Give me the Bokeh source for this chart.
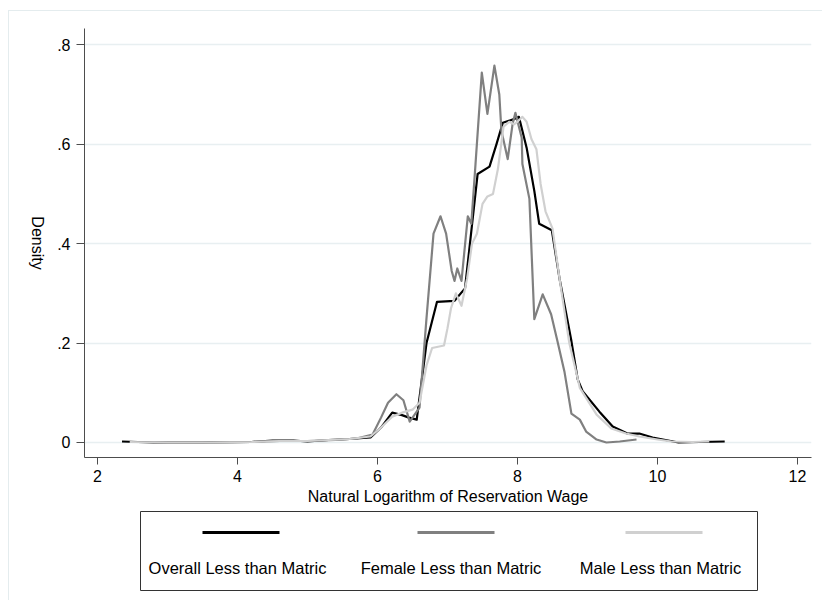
import math
from bokeh.plotting import figure
from bokeh.models import FixedTicker, Range1d, ColumnDataSource
from bokeh.layouts import column, row
from bokeh.embed import file_html
from bokeh.resources import INLINE
from bokeh.core.properties import value

# ---------------- data ----------------
series_names = ["Overall Less than Matric", "Female Less than Matric", "Male Less than Matric"]
series_colors = ["#000000", "#808080", "#d0d0d0"]

overall_x = [2.35, 2.8, 3.5, 4.2, 4.5, 4.8, 5.0, 5.3, 5.6, 5.9, 6.05, 6.21, 6.35, 6.45, 6.56,
             6.7, 6.85, 7.1, 7.25, 7.43, 7.6, 7.7, 7.79, 7.96, 8.02, 8.13, 8.24, 8.31, 8.49,
             8.6, 8.77, 8.86, 8.93, 9.17, 9.36, 9.57, 9.74, 9.93, 10.3, 10.6, 10.96]
overall_y = [0.002, 0.0, 0.0, 0.001, 0.004, 0.004, 0.002, 0.005, 0.007, 0.01, 0.03, 0.06, 0.055,
             0.05, 0.046, 0.2, 0.283, 0.285, 0.31, 0.54, 0.555, 0.6, 0.643, 0.651, 0.655, 0.593,
             0.506, 0.44, 0.427, 0.33, 0.204, 0.127, 0.103, 0.062, 0.032, 0.018, 0.018, 0.01,
             0.0, 0.001, 0.002]

female_x = [2.8, 3.5, 4.2, 4.6, 5.0, 5.4, 5.7, 5.93, 6.05, 6.15, 6.27, 6.37, 6.46, 6.6, 6.7,
            6.8, 6.9, 6.98, 7.06, 7.1, 7.14, 7.2, 7.29, 7.34, 7.4, 7.49, 7.57, 7.67, 7.74,
            7.77, 7.86, 7.93, 7.97, 8.06, 8.07, 8.17, 8.24, 8.36, 8.48, 8.57, 8.67, 8.77,
            8.89, 8.98, 9.13, 9.27, 9.46, 9.7]
female_y = [0.0, 0.0, 0.001, 0.003, 0.003, 0.005, 0.008, 0.016, 0.05, 0.08, 0.097, 0.085,
            0.042, 0.07, 0.25, 0.42, 0.455, 0.42, 0.345, 0.325, 0.35, 0.325, 0.455, 0.44,
            0.56, 0.744, 0.661, 0.758, 0.70, 0.627, 0.57, 0.641, 0.663, 0.613, 0.56, 0.49,
            0.248, 0.298, 0.258, 0.204, 0.143, 0.058, 0.046, 0.022, 0.006, 0.0, 0.002, 0.006]

male_x = [2.46, 3.0, 3.6, 4.2, 4.6, 5.0, 5.3, 5.6, 5.9, 6.05, 6.21, 6.35, 6.5, 6.6, 6.7,
          6.78, 6.95, 7.0, 7.05, 7.12, 7.2, 7.28, 7.35, 7.42, 7.5, 7.57, 7.65, 7.72, 7.8,
          7.88, 7.95, 8.0, 8.07, 8.13, 8.2, 8.27, 8.33, 8.4, 8.5, 8.6, 8.74, 8.89, 9.13,
          9.34, 9.55, 9.74, 10.0, 10.2, 10.5, 10.74]
male_y = [0.001, 0.0, 0.0, 0.001, 0.003, 0.003, 0.005, 0.007, 0.012, 0.03, 0.052, 0.06,
          0.066, 0.08, 0.155, 0.19, 0.195, 0.23, 0.27, 0.3, 0.275, 0.33, 0.4, 0.42, 0.48,
          0.495, 0.5, 0.55, 0.635, 0.645, 0.64, 0.645, 0.655, 0.645, 0.61, 0.59, 0.52,
          0.465, 0.43, 0.33, 0.2, 0.11, 0.056, 0.028, 0.018, 0.012, 0.006, 0.002, 0.001, 0.002]

x_ticks = [2, 4, 6, 8, 10, 12]
y_ticks = [0, 0.2, 0.4, 0.6, 0.8]
y_tick_labels = ["0", ".2", ".4", ".6", ".8"]
x_title = "Natural Logarithm of Reservation Wage"
y_title = "Density"

FONT = "Liberation Sans"
AXIS_COLOR = "#4d4d4d"
Y_RANGE = Range1d(-0.0302, 0.8327)

# ---------------- main plot ----------------
p = figure(width=775, height=498, x_range=Range1d(1.814, 12.2), y_range=Y_RANGE,
           output_backend="svg", toolbar_location=None,
           min_border_left=36, min_border_top=17, min_border_right=12, min_border_bottom=52)
p.outline_line_color = None
p.background_fill_color = "white"
p.border_fill_color = "white"

p.xgrid.grid_line_color = None
p.ygrid.grid_line_color = "#e8eff1"
p.ygrid.grid_line_width = 1.5
p.ygrid.ticker = FixedTicker(ticks=y_ticks)

p.xaxis.ticker = FixedTicker(ticks=x_ticks)
p.yaxis.ticker = FixedTicker(ticks=y_ticks)
p.yaxis.major_label_overrides = {t: s for t, s in zip(y_ticks, y_tick_labels)}
for ax in (p.xaxis[0], p.yaxis[0]):
    ax.axis_line_color = AXIS_COLOR
    ax.major_tick_line_color = AXIS_COLOR
    ax.minor_tick_line_color = None
    ax.major_tick_in = 0
    ax.major_label_text_font = FONT
    ax.major_label_text_font_size = "16px"
    ax.major_label_text_color = "#000000"
    ax.axis_label_text_font = FONT
    ax.axis_label_text_font_size = "16px"
    ax.axis_label_text_font_style = "normal"
    ax.axis_label_text_color = "#000000"
p.xaxis.major_tick_out = 7
p.yaxis.major_tick_out = 8
p.xaxis.major_label_standoff = 5
p.yaxis.major_label_standoff = 6
p.xaxis.axis_label = x_title
p.xaxis.axis_label_standoff = 3

for xs, ys, col in [(overall_x, overall_y, series_colors[0]),
                    (female_x, female_y, series_colors[1]),
                    (male_x, male_y, series_colors[2])]:
    p.line(xs, ys, line_color=col, line_width=2.2, line_join="round")

# ---------------- y title strip (right-side axis label reads top-to-bottom) ----------------
ylab = figure(width=39, height=498, x_range=Range1d(0, 1), y_range=Y_RANGE,
              output_backend="svg", toolbar_location=None,
              x_axis_location=None, y_axis_location="right",
              min_border=0, min_border_left=0, min_border_right=21,
              min_border_top=17, min_border_bottom=52)
ylab.outline_line_color = None
ylab.grid.visible = False
ylab.border_fill_color = "white"
ya = ylab.yaxis[0]
ya.ticker = FixedTicker(ticks=[])
ya.axis_line_color = None
ya.major_tick_line_color = None
ya.minor_tick_line_color = None
ya.major_tick_out = 0
ya.major_tick_in = 0
ya.major_label_standoff = 0
ya.axis_label = y_title
ya.axis_label_standoff = 2
ya.axis_label_text_font = FONT
ya.axis_label_text_font_size = "16px"
ya.axis_label_text_font_style = "normal"
ya.axis_label_text_color = "#000000"

# ---------------- legend (frame aligned with the main plot frame) ----------------
lg = figure(width=775, height=91, x_range=Range1d(85, 812), y_range=Range1d(91, 0),
            output_backend="svg", toolbar_location=None,
            min_border=0, min_border_left=0, min_border_right=0, min_border_top=0, min_border_bottom=0)
lg.axis.visible = False
lg.grid.visible = False
lg.outline_line_color = None
lg.border_fill_color = "white"
lg.quad(left=141, right=758, top=2, bottom=81, fill_color=None, line_color="#333333", line_width=1)

centers = [241.5, 456.5, 664.5]
src = ColumnDataSource(dict(
    x0=[c - 38.5 for c in centers], x1=[c + 38.5 for c in centers],
    y=[23] * 3, ty=[58] * 3, xc=[238, 451.5, 661], color=series_colors, name=series_names))
lg.segment(x0="x0", y0="y", x1="x1", y1="y", line_color="color", line_width=3, source=src)
lg.text(x="xc", y="ty", text="name", text_align="center", text_baseline="middle",
        text_font=value(FONT), text_font_size="16.5px", text_color="#000000", source=src)

layout = row(ylab, column(p, lg, spacing=0), margin=(10, 0, 0, 8), spacing=0,
             styles={"border-left": "1px solid #e4ecee", "border-top": "1px solid #e4ecee"})

open("out.html", "w").write(file_html(layout, INLINE))
